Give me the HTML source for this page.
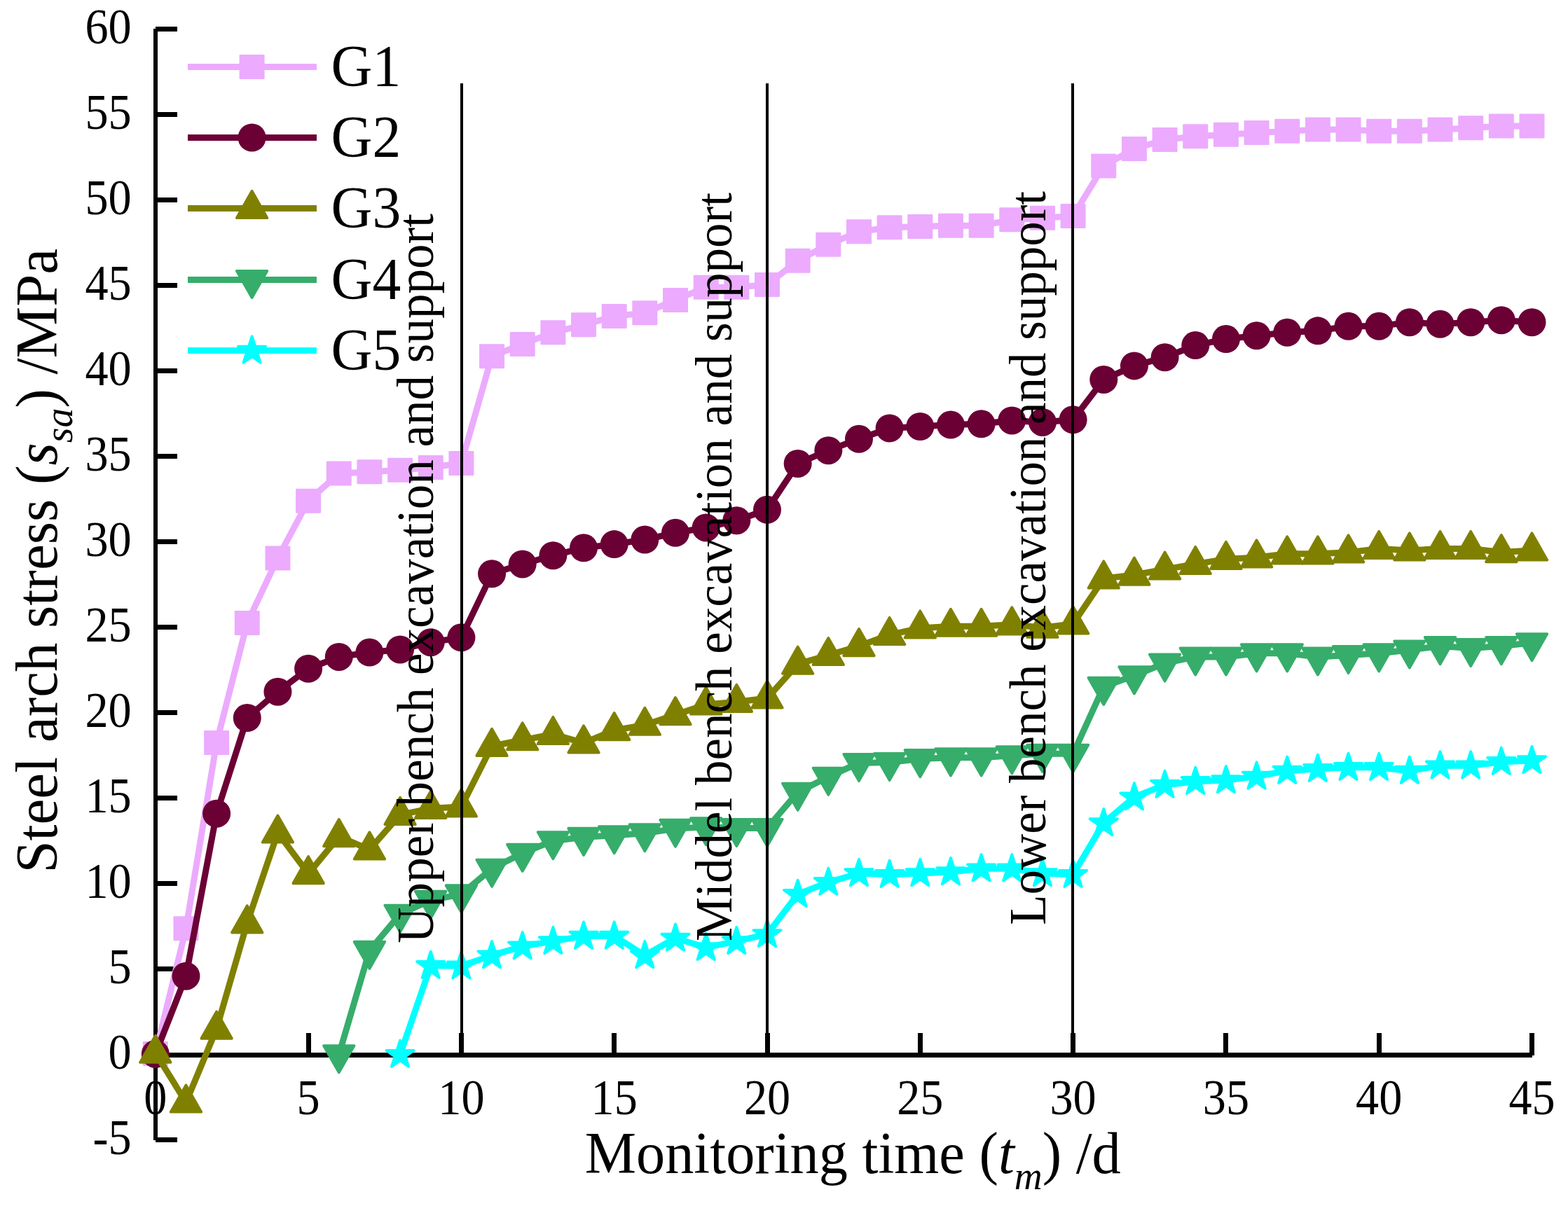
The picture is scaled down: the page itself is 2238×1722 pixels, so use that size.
<!DOCTYPE html>
<html lang="en"><head><meta charset="utf-8"><title>Steel arch stress vs monitoring time</title>
<style>html,body{margin:0;padding:0;background:#fff}body{width:2238px;height:1722px}svg{display:block}text{font-family:"Liberation Serif","DejaVu Serif",serif;fill:#000}.tk{font-size:72px}.lb{font-size:85px}.vt{font-size:73.4px}.it{font-style:italic}.sb{font-style:italic;font-size:57px}</style></head><body>
<svg width="2238" height="1722" viewBox="0 0 2238 1722" role="img" aria-label="Steel arch stress versus monitoring time for gauges G1 to G5">
<rect width="2238" height="1722" fill="#fff"/>
<g fill="#000" shape-rendering="crispEdges">
<rect x="219" y="41" width="6" height="1587"/>
<rect x="219" y="1503" width="1968" height="7"/>
<rect x="222" y="1624" width="31" height="7"/>
<rect x="222" y="1380" width="31" height="7"/>
<rect x="222" y="1258" width="31" height="7"/>
<rect x="222" y="1136" width="31" height="7"/>
<rect x="222" y="1014" width="31" height="7"/>
<rect x="222" y="892" width="31" height="7"/>
<rect x="222" y="770" width="31" height="7"/>
<rect x="222" y="648" width="31" height="7"/>
<rect x="222" y="526" width="31" height="7"/>
<rect x="222" y="404" width="31" height="7"/>
<rect x="222" y="282" width="31" height="7"/>
<rect x="222" y="160" width="31" height="7"/>
<rect x="222" y="38" width="31" height="7"/>
<rect x="437" y="1475" width="7" height="32"/>
<rect x="655" y="1475" width="7" height="32"/>
<rect x="873" y="1475" width="7" height="32"/>
<rect x="1092" y="1475" width="7" height="32"/>
<rect x="1310" y="1475" width="7" height="32"/>
<rect x="1528" y="1475" width="7" height="32"/>
<rect x="1746" y="1475" width="7" height="32"/>
<rect x="1965" y="1475" width="7" height="32"/>
<rect x="2183" y="1475" width="7" height="32"/>
</g>
<g class="tk">
<text transform="translate(187.6 1647.6) scale(0.92 1)" text-anchor="end">-5</text>
<text transform="translate(187.6 1525.6) scale(0.92 1)" text-anchor="end">0</text>
<text transform="translate(187.6 1403.6) scale(0.92 1)" text-anchor="end">5</text>
<text transform="translate(187.6 1281.6) scale(0.92 1)" text-anchor="end">10</text>
<text transform="translate(187.6 1159.6) scale(0.92 1)" text-anchor="end">15</text>
<text transform="translate(187.6 1037.6) scale(0.92 1)" text-anchor="end">20</text>
<text transform="translate(187.6 915.6) scale(0.92 1)" text-anchor="end">25</text>
<text transform="translate(187.6 793.6) scale(0.92 1)" text-anchor="end">30</text>
<text transform="translate(187.6 671.6) scale(0.92 1)" text-anchor="end">35</text>
<text transform="translate(187.6 549.6) scale(0.92 1)" text-anchor="end">40</text>
<text transform="translate(187.6 427.6) scale(0.92 1)" text-anchor="end">45</text>
<text transform="translate(187.6 305.6) scale(0.92 1)" text-anchor="end">50</text>
<text transform="translate(187.6 183.6) scale(0.92 1)" text-anchor="end">55</text>
<text transform="translate(187.6 61.6) scale(0.92 1)" text-anchor="end">60</text>
<text transform="translate(221.8 1591.2) scale(0.92 1)" text-anchor="middle">0</text>
<text transform="translate(440.1 1591.2) scale(0.92 1)" text-anchor="middle">5</text>
<text transform="translate(658.4 1591.2) scale(0.92 1)" text-anchor="middle">10</text>
<text transform="translate(876.7 1591.2) scale(0.92 1)" text-anchor="middle">15</text>
<text transform="translate(1095 1591.2) scale(0.92 1)" text-anchor="middle">20</text>
<text transform="translate(1313.3 1591.2) scale(0.92 1)" text-anchor="middle">25</text>
<text transform="translate(1531.6 1591.2) scale(0.92 1)" text-anchor="middle">30</text>
<text transform="translate(1749.9 1591.2) scale(0.92 1)" text-anchor="middle">35</text>
<text transform="translate(1968.2 1591.2) scale(0.92 1)" text-anchor="middle">40</text>
<text transform="translate(2186.5 1591.2) scale(0.92 1)" text-anchor="middle">45</text>
</g>
<g>
<polyline points="221.8,1504.48 265.46,1325.87 309.12,1060.4 352.78,889.6 396.44,796.88 440.1,715.14 483.76,676.1 527.42,673.66 571.08,671.22 614.74,667.56 658.4,661.46 702.06,508.72 745.72,491.39 789.38,474.8 833.04,463.82 876.7,451.62 920.36,446.74 964.02,428.44 1007.68,410.14 1051.34,410.14 1095,406.48 1138.66,372.32 1182.32,349.14 1225.98,330.84 1269.64,324.74 1313.3,323.52 1356.96,322.3 1400.62,322.3 1444.28,313.76 1487.94,311.32 1531.6,308.39 1575.26,236.9 1618.92,212.5 1662.58,199.57 1706.24,194.69 1749.9,192.25 1793.56,189.56 1837.22,187.37 1880.88,184.93 1924.54,184.93 1968.2,187.37 2011.86,187.37 2055.52,184.93 2099.18,182.73 2142.84,180.05 2186.5,180.05" fill="none" stroke="#ECABFE" stroke-width="9" stroke-linejoin="round"/>
<rect x="203.8" y="1486.98" width="36" height="35" rx="1" fill="#ECABFE"/>
<rect x="247.46" y="1308.37" width="36" height="35" rx="1" fill="#ECABFE"/>
<rect x="291.12" y="1042.9" width="36" height="35" rx="1" fill="#ECABFE"/>
<rect x="334.78" y="872.1" width="36" height="35" rx="1" fill="#ECABFE"/>
<rect x="378.44" y="779.38" width="36" height="35" rx="1" fill="#ECABFE"/>
<rect x="422.1" y="697.64" width="36" height="35" rx="1" fill="#ECABFE"/>
<rect x="465.76" y="658.6" width="36" height="35" rx="1" fill="#ECABFE"/>
<rect x="509.42" y="656.16" width="36" height="35" rx="1" fill="#ECABFE"/>
<rect x="553.08" y="653.72" width="36" height="35" rx="1" fill="#ECABFE"/>
<rect x="596.74" y="650.06" width="36" height="35" rx="1" fill="#ECABFE"/>
<rect x="640.4" y="643.96" width="36" height="35" rx="1" fill="#ECABFE"/>
<rect x="684.06" y="491.22" width="36" height="35" rx="1" fill="#ECABFE"/>
<rect x="727.72" y="473.89" width="36" height="35" rx="1" fill="#ECABFE"/>
<rect x="771.38" y="457.3" width="36" height="35" rx="1" fill="#ECABFE"/>
<rect x="815.04" y="446.32" width="36" height="35" rx="1" fill="#ECABFE"/>
<rect x="858.7" y="434.12" width="36" height="35" rx="1" fill="#ECABFE"/>
<rect x="902.36" y="429.24" width="36" height="35" rx="1" fill="#ECABFE"/>
<rect x="946.02" y="410.94" width="36" height="35" rx="1" fill="#ECABFE"/>
<rect x="989.68" y="392.64" width="36" height="35" rx="1" fill="#ECABFE"/>
<rect x="1033.34" y="392.64" width="36" height="35" rx="1" fill="#ECABFE"/>
<rect x="1077" y="388.98" width="36" height="35" rx="1" fill="#ECABFE"/>
<rect x="1120.66" y="354.82" width="36" height="35" rx="1" fill="#ECABFE"/>
<rect x="1164.32" y="331.64" width="36" height="35" rx="1" fill="#ECABFE"/>
<rect x="1207.98" y="313.34" width="36" height="35" rx="1" fill="#ECABFE"/>
<rect x="1251.64" y="307.24" width="36" height="35" rx="1" fill="#ECABFE"/>
<rect x="1295.3" y="306.02" width="36" height="35" rx="1" fill="#ECABFE"/>
<rect x="1338.96" y="304.8" width="36" height="35" rx="1" fill="#ECABFE"/>
<rect x="1382.62" y="304.8" width="36" height="35" rx="1" fill="#ECABFE"/>
<rect x="1426.28" y="296.26" width="36" height="35" rx="1" fill="#ECABFE"/>
<rect x="1469.94" y="293.82" width="36" height="35" rx="1" fill="#ECABFE"/>
<rect x="1513.6" y="290.89" width="36" height="35" rx="1" fill="#ECABFE"/>
<rect x="1557.26" y="219.4" width="36" height="35" rx="1" fill="#ECABFE"/>
<rect x="1600.92" y="195" width="36" height="35" rx="1" fill="#ECABFE"/>
<rect x="1644.58" y="182.07" width="36" height="35" rx="1" fill="#ECABFE"/>
<rect x="1688.24" y="177.19" width="36" height="35" rx="1" fill="#ECABFE"/>
<rect x="1731.9" y="174.75" width="36" height="35" rx="1" fill="#ECABFE"/>
<rect x="1775.56" y="172.06" width="36" height="35" rx="1" fill="#ECABFE"/>
<rect x="1819.22" y="169.87" width="36" height="35" rx="1" fill="#ECABFE"/>
<rect x="1862.88" y="167.43" width="36" height="35" rx="1" fill="#ECABFE"/>
<rect x="1906.54" y="167.43" width="36" height="35" rx="1" fill="#ECABFE"/>
<rect x="1950.2" y="169.87" width="36" height="35" rx="1" fill="#ECABFE"/>
<rect x="1993.86" y="169.87" width="36" height="35" rx="1" fill="#ECABFE"/>
<rect x="2037.52" y="167.43" width="36" height="35" rx="1" fill="#ECABFE"/>
<rect x="2081.18" y="165.23" width="36" height="35" rx="1" fill="#ECABFE"/>
<rect x="2124.84" y="162.55" width="36" height="35" rx="1" fill="#ECABFE"/>
<rect x="2168.5" y="162.55" width="36" height="35" rx="1" fill="#ECABFE"/>
</g>
<g>
<polyline points="221.8,1504.97 265.46,1393.7 309.12,1161.66 352.78,1025.02 396.44,987.69 440.1,954.75 483.76,937.91 527.42,931.57 571.08,927.42 614.74,917.17 658.4,910.34 702.06,819.33 745.72,805.42 789.38,793.22 833.04,782.24 876.7,777.12 920.36,770.53 964.02,760.77 1007.68,753.45 1051.34,743.2 1095,727.83 1138.66,661.95 1182.32,643.16 1225.98,626.81 1269.64,611.44 1313.3,609 1356.96,606.56 1400.62,605.34 1444.28,600.46 1487.94,602.9 1531.6,599.24 1575.26,541.9 1618.92,522.38 1662.58,510.18 1706.24,493.1 1749.9,484.07 1793.56,479.19 1837.22,474.8 1880.88,472.36 1924.54,465.77 1968.2,465.77 2011.86,460.16 2055.52,462.84 2099.18,460.16 2142.84,457.23 2186.5,460.16" fill="none" stroke="#6B0035" stroke-width="9" stroke-linejoin="round"/>
<circle cx="221.8" cy="1504.97" r="20.0" fill="#6B0035"/>
<circle cx="265.46" cy="1393.7" r="20.0" fill="#6B0035"/>
<circle cx="309.12" cy="1161.66" r="20.0" fill="#6B0035"/>
<circle cx="352.78" cy="1025.02" r="20.0" fill="#6B0035"/>
<circle cx="396.44" cy="987.69" r="20.0" fill="#6B0035"/>
<circle cx="440.1" cy="954.75" r="20.0" fill="#6B0035"/>
<circle cx="483.76" cy="937.91" r="20.0" fill="#6B0035"/>
<circle cx="527.42" cy="931.57" r="20.0" fill="#6B0035"/>
<circle cx="571.08" cy="927.42" r="20.0" fill="#6B0035"/>
<circle cx="614.74" cy="917.17" r="20.0" fill="#6B0035"/>
<circle cx="658.4" cy="910.34" r="20.0" fill="#6B0035"/>
<circle cx="702.06" cy="819.33" r="20.0" fill="#6B0035"/>
<circle cx="745.72" cy="805.42" r="20.0" fill="#6B0035"/>
<circle cx="789.38" cy="793.22" r="20.0" fill="#6B0035"/>
<circle cx="833.04" cy="782.24" r="20.0" fill="#6B0035"/>
<circle cx="876.7" cy="777.12" r="20.0" fill="#6B0035"/>
<circle cx="920.36" cy="770.53" r="20.0" fill="#6B0035"/>
<circle cx="964.02" cy="760.77" r="20.0" fill="#6B0035"/>
<circle cx="1007.68" cy="753.45" r="20.0" fill="#6B0035"/>
<circle cx="1051.34" cy="743.2" r="20.0" fill="#6B0035"/>
<circle cx="1095" cy="727.83" r="20.0" fill="#6B0035"/>
<circle cx="1138.66" cy="661.95" r="20.0" fill="#6B0035"/>
<circle cx="1182.32" cy="643.16" r="20.0" fill="#6B0035"/>
<circle cx="1225.98" cy="626.81" r="20.0" fill="#6B0035"/>
<circle cx="1269.64" cy="611.44" r="20.0" fill="#6B0035"/>
<circle cx="1313.3" cy="609" r="20.0" fill="#6B0035"/>
<circle cx="1356.96" cy="606.56" r="20.0" fill="#6B0035"/>
<circle cx="1400.62" cy="605.34" r="20.0" fill="#6B0035"/>
<circle cx="1444.28" cy="600.46" r="20.0" fill="#6B0035"/>
<circle cx="1487.94" cy="602.9" r="20.0" fill="#6B0035"/>
<circle cx="1531.6" cy="599.24" r="20.0" fill="#6B0035"/>
<circle cx="1575.26" cy="541.9" r="20.0" fill="#6B0035"/>
<circle cx="1618.92" cy="522.38" r="20.0" fill="#6B0035"/>
<circle cx="1662.58" cy="510.18" r="20.0" fill="#6B0035"/>
<circle cx="1706.24" cy="493.1" r="20.0" fill="#6B0035"/>
<circle cx="1749.9" cy="484.07" r="20.0" fill="#6B0035"/>
<circle cx="1793.56" cy="479.19" r="20.0" fill="#6B0035"/>
<circle cx="1837.22" cy="474.8" r="20.0" fill="#6B0035"/>
<circle cx="1880.88" cy="472.36" r="20.0" fill="#6B0035"/>
<circle cx="1924.54" cy="465.77" r="20.0" fill="#6B0035"/>
<circle cx="1968.2" cy="465.77" r="20.0" fill="#6B0035"/>
<circle cx="2011.86" cy="460.16" r="20.0" fill="#6B0035"/>
<circle cx="2055.52" cy="462.84" r="20.0" fill="#6B0035"/>
<circle cx="2099.18" cy="460.16" r="20.0" fill="#6B0035"/>
<circle cx="2142.84" cy="457.23" r="20.0" fill="#6B0035"/>
<circle cx="2186.5" cy="460.16" r="20.0" fill="#6B0035"/>
</g>
<g>
<polyline points="221.8,1503.26 265.46,1574.02 309.12,1469.1 352.78,1317.82 396.44,1188.99 440.1,1247.55 483.76,1194.6 527.42,1212.9 571.08,1163.37 614.74,1154.34 658.4,1151.9 702.06,1065.28 745.72,1056.74 789.38,1048.44 833.04,1060.89 876.7,1042.59 920.36,1035.27 964.02,1020.63 1007.68,1005.99 1051.34,1002.33 1095,996.96 1138.66,948.16 1182.32,935.47 1225.98,922.54 1269.64,906.44 1313.3,896.92 1356.96,894.24 1400.62,894.24 1444.28,891.8 1487.94,896.19 1531.6,890.82 1575.26,825.92 1618.92,821.04 1662.58,812.98 1706.24,805.42 1749.9,798.34 1793.56,795.9 1837.22,790.78 1880.88,790.78 1924.54,788.83 1968.2,783.46 2011.86,785.9 2055.52,783.46 2099.18,783.46 2142.84,788.58 2186.5,785.9" fill="none" stroke="#808000" stroke-width="9" stroke-linejoin="round"/>
<polygon points="221.8,1478.66 243.55,1516.96 200.05,1516.96" fill="#808000" stroke="#808000" stroke-width="3.8" stroke-linejoin="round"/>
<polygon points="265.46,1549.42 287.21,1587.72 243.71,1587.72" fill="#808000" stroke="#808000" stroke-width="3.8" stroke-linejoin="round"/>
<polygon points="309.12,1444.5 330.87,1482.8 287.37,1482.8" fill="#808000" stroke="#808000" stroke-width="3.8" stroke-linejoin="round"/>
<polygon points="352.78,1293.22 374.53,1331.52 331.03,1331.52" fill="#808000" stroke="#808000" stroke-width="3.8" stroke-linejoin="round"/>
<polygon points="396.44,1164.39 418.19,1202.69 374.69,1202.69" fill="#808000" stroke="#808000" stroke-width="3.8" stroke-linejoin="round"/>
<polygon points="440.1,1222.95 461.85,1261.25 418.35,1261.25" fill="#808000" stroke="#808000" stroke-width="3.8" stroke-linejoin="round"/>
<polygon points="483.76,1170 505.51,1208.3 462.01,1208.3" fill="#808000" stroke="#808000" stroke-width="3.8" stroke-linejoin="round"/>
<polygon points="527.42,1188.3 549.17,1226.6 505.67,1226.6" fill="#808000" stroke="#808000" stroke-width="3.8" stroke-linejoin="round"/>
<polygon points="571.08,1138.77 592.83,1177.07 549.33,1177.07" fill="#808000" stroke="#808000" stroke-width="3.8" stroke-linejoin="round"/>
<polygon points="614.74,1129.74 636.49,1168.04 592.99,1168.04" fill="#808000" stroke="#808000" stroke-width="3.8" stroke-linejoin="round"/>
<polygon points="658.4,1127.3 680.15,1165.6 636.65,1165.6" fill="#808000" stroke="#808000" stroke-width="3.8" stroke-linejoin="round"/>
<polygon points="702.06,1040.68 723.81,1078.98 680.31,1078.98" fill="#808000" stroke="#808000" stroke-width="3.8" stroke-linejoin="round"/>
<polygon points="745.72,1032.14 767.47,1070.44 723.97,1070.44" fill="#808000" stroke="#808000" stroke-width="3.8" stroke-linejoin="round"/>
<polygon points="789.38,1023.84 811.13,1062.14 767.63,1062.14" fill="#808000" stroke="#808000" stroke-width="3.8" stroke-linejoin="round"/>
<polygon points="833.04,1036.29 854.79,1074.59 811.29,1074.59" fill="#808000" stroke="#808000" stroke-width="3.8" stroke-linejoin="round"/>
<polygon points="876.7,1017.99 898.45,1056.29 854.95,1056.29" fill="#808000" stroke="#808000" stroke-width="3.8" stroke-linejoin="round"/>
<polygon points="920.36,1010.67 942.11,1048.97 898.61,1048.97" fill="#808000" stroke="#808000" stroke-width="3.8" stroke-linejoin="round"/>
<polygon points="964.02,996.03 985.77,1034.33 942.27,1034.33" fill="#808000" stroke="#808000" stroke-width="3.8" stroke-linejoin="round"/>
<polygon points="1007.68,981.39 1029.43,1019.69 985.93,1019.69" fill="#808000" stroke="#808000" stroke-width="3.8" stroke-linejoin="round"/>
<polygon points="1051.34,977.73 1073.09,1016.03 1029.59,1016.03" fill="#808000" stroke="#808000" stroke-width="3.8" stroke-linejoin="round"/>
<polygon points="1095,972.36 1116.75,1010.66 1073.25,1010.66" fill="#808000" stroke="#808000" stroke-width="3.8" stroke-linejoin="round"/>
<polygon points="1138.66,923.56 1160.41,961.86 1116.91,961.86" fill="#808000" stroke="#808000" stroke-width="3.8" stroke-linejoin="round"/>
<polygon points="1182.32,910.87 1204.07,949.17 1160.57,949.17" fill="#808000" stroke="#808000" stroke-width="3.8" stroke-linejoin="round"/>
<polygon points="1225.98,897.94 1247.73,936.24 1204.23,936.24" fill="#808000" stroke="#808000" stroke-width="3.8" stroke-linejoin="round"/>
<polygon points="1269.64,881.84 1291.39,920.14 1247.89,920.14" fill="#808000" stroke="#808000" stroke-width="3.8" stroke-linejoin="round"/>
<polygon points="1313.3,872.32 1335.05,910.62 1291.55,910.62" fill="#808000" stroke="#808000" stroke-width="3.8" stroke-linejoin="round"/>
<polygon points="1356.96,869.64 1378.71,907.94 1335.21,907.94" fill="#808000" stroke="#808000" stroke-width="3.8" stroke-linejoin="round"/>
<polygon points="1400.62,869.64 1422.37,907.94 1378.87,907.94" fill="#808000" stroke="#808000" stroke-width="3.8" stroke-linejoin="round"/>
<polygon points="1444.28,867.2 1466.03,905.5 1422.53,905.5" fill="#808000" stroke="#808000" stroke-width="3.8" stroke-linejoin="round"/>
<polygon points="1487.94,871.59 1509.69,909.89 1466.19,909.89" fill="#808000" stroke="#808000" stroke-width="3.8" stroke-linejoin="round"/>
<polygon points="1531.6,866.22 1553.35,904.52 1509.85,904.52" fill="#808000" stroke="#808000" stroke-width="3.8" stroke-linejoin="round"/>
<polygon points="1575.26,801.32 1597.01,839.62 1553.51,839.62" fill="#808000" stroke="#808000" stroke-width="3.8" stroke-linejoin="round"/>
<polygon points="1618.92,796.44 1640.67,834.74 1597.17,834.74" fill="#808000" stroke="#808000" stroke-width="3.8" stroke-linejoin="round"/>
<polygon points="1662.58,788.38 1684.33,826.68 1640.83,826.68" fill="#808000" stroke="#808000" stroke-width="3.8" stroke-linejoin="round"/>
<polygon points="1706.24,780.82 1727.99,819.12 1684.49,819.12" fill="#808000" stroke="#808000" stroke-width="3.8" stroke-linejoin="round"/>
<polygon points="1749.9,773.74 1771.65,812.04 1728.15,812.04" fill="#808000" stroke="#808000" stroke-width="3.8" stroke-linejoin="round"/>
<polygon points="1793.56,771.3 1815.31,809.6 1771.81,809.6" fill="#808000" stroke="#808000" stroke-width="3.8" stroke-linejoin="round"/>
<polygon points="1837.22,766.18 1858.97,804.48 1815.47,804.48" fill="#808000" stroke="#808000" stroke-width="3.8" stroke-linejoin="round"/>
<polygon points="1880.88,766.18 1902.63,804.48 1859.13,804.48" fill="#808000" stroke="#808000" stroke-width="3.8" stroke-linejoin="round"/>
<polygon points="1924.54,764.23 1946.29,802.53 1902.79,802.53" fill="#808000" stroke="#808000" stroke-width="3.8" stroke-linejoin="round"/>
<polygon points="1968.2,758.86 1989.95,797.16 1946.45,797.16" fill="#808000" stroke="#808000" stroke-width="3.8" stroke-linejoin="round"/>
<polygon points="2011.86,761.3 2033.61,799.6 1990.11,799.6" fill="#808000" stroke="#808000" stroke-width="3.8" stroke-linejoin="round"/>
<polygon points="2055.52,758.86 2077.27,797.16 2033.77,797.16" fill="#808000" stroke="#808000" stroke-width="3.8" stroke-linejoin="round"/>
<polygon points="2099.18,758.86 2120.93,797.16 2077.43,797.16" fill="#808000" stroke="#808000" stroke-width="3.8" stroke-linejoin="round"/>
<polygon points="2142.84,763.98 2164.59,802.28 2121.09,802.28" fill="#808000" stroke="#808000" stroke-width="3.8" stroke-linejoin="round"/>
<polygon points="2186.5,761.3 2208.25,799.6 2164.75,799.6" fill="#808000" stroke="#808000" stroke-width="3.8" stroke-linejoin="round"/>
</g>
<g>
<polyline points="483.76,1505.7 527.42,1357.35 571.08,1305.13 614.74,1285.37 658.4,1276.83 702.06,1240.23 745.72,1218.27 789.38,1200.7 833.04,1195.33 876.7,1192.65 920.36,1189.72 964.02,1183.13 1007.68,1180.69 1051.34,1182.4 1095,1182.4 1138.66,1131.16 1182.32,1109.2 1225.98,1089.44 1269.64,1088.46 1313.3,1083.58 1356.96,1081.87 1400.62,1081.87 1444.28,1078.7 1487.94,1076.26 1531.6,1076.26 1575.26,980.37 1618.92,964.75 1662.58,946.94 1706.24,937.91 1749.9,937.91 1793.56,932.79 1837.22,932.79 1880.88,937.91 1924.54,935.47 1968.2,932.79 2011.86,927.91 2055.52,922.54 2099.18,925.47 2142.84,922.54 2186.5,917.66" fill="none" stroke="#36AD6B" stroke-width="9" stroke-linejoin="round"/>
<polygon points="483.76,1531.4 505.51,1493.1 462.01,1493.1" fill="#36AD6B" stroke="#36AD6B" stroke-width="3.8" stroke-linejoin="round"/>
<polygon points="527.42,1383.05 549.17,1344.75 505.67,1344.75" fill="#36AD6B" stroke="#36AD6B" stroke-width="3.8" stroke-linejoin="round"/>
<polygon points="571.08,1330.83 592.83,1292.53 549.33,1292.53" fill="#36AD6B" stroke="#36AD6B" stroke-width="3.8" stroke-linejoin="round"/>
<polygon points="614.74,1311.07 636.49,1272.77 592.99,1272.77" fill="#36AD6B" stroke="#36AD6B" stroke-width="3.8" stroke-linejoin="round"/>
<polygon points="658.4,1302.53 680.15,1264.23 636.65,1264.23" fill="#36AD6B" stroke="#36AD6B" stroke-width="3.8" stroke-linejoin="round"/>
<polygon points="702.06,1265.93 723.81,1227.63 680.31,1227.63" fill="#36AD6B" stroke="#36AD6B" stroke-width="3.8" stroke-linejoin="round"/>
<polygon points="745.72,1243.97 767.47,1205.67 723.97,1205.67" fill="#36AD6B" stroke="#36AD6B" stroke-width="3.8" stroke-linejoin="round"/>
<polygon points="789.38,1226.4 811.13,1188.1 767.63,1188.1" fill="#36AD6B" stroke="#36AD6B" stroke-width="3.8" stroke-linejoin="round"/>
<polygon points="833.04,1221.03 854.79,1182.73 811.29,1182.73" fill="#36AD6B" stroke="#36AD6B" stroke-width="3.8" stroke-linejoin="round"/>
<polygon points="876.7,1218.35 898.45,1180.05 854.95,1180.05" fill="#36AD6B" stroke="#36AD6B" stroke-width="3.8" stroke-linejoin="round"/>
<polygon points="920.36,1215.42 942.11,1177.12 898.61,1177.12" fill="#36AD6B" stroke="#36AD6B" stroke-width="3.8" stroke-linejoin="round"/>
<polygon points="964.02,1208.83 985.77,1170.53 942.27,1170.53" fill="#36AD6B" stroke="#36AD6B" stroke-width="3.8" stroke-linejoin="round"/>
<polygon points="1007.68,1206.39 1029.43,1168.09 985.93,1168.09" fill="#36AD6B" stroke="#36AD6B" stroke-width="3.8" stroke-linejoin="round"/>
<polygon points="1051.34,1208.1 1073.09,1169.8 1029.59,1169.8" fill="#36AD6B" stroke="#36AD6B" stroke-width="3.8" stroke-linejoin="round"/>
<polygon points="1095,1208.1 1116.75,1169.8 1073.25,1169.8" fill="#36AD6B" stroke="#36AD6B" stroke-width="3.8" stroke-linejoin="round"/>
<polygon points="1138.66,1156.86 1160.41,1118.56 1116.91,1118.56" fill="#36AD6B" stroke="#36AD6B" stroke-width="3.8" stroke-linejoin="round"/>
<polygon points="1182.32,1134.9 1204.07,1096.6 1160.57,1096.6" fill="#36AD6B" stroke="#36AD6B" stroke-width="3.8" stroke-linejoin="round"/>
<polygon points="1225.98,1115.14 1247.73,1076.84 1204.23,1076.84" fill="#36AD6B" stroke="#36AD6B" stroke-width="3.8" stroke-linejoin="round"/>
<polygon points="1269.64,1114.16 1291.39,1075.86 1247.89,1075.86" fill="#36AD6B" stroke="#36AD6B" stroke-width="3.8" stroke-linejoin="round"/>
<polygon points="1313.3,1109.28 1335.05,1070.98 1291.55,1070.98" fill="#36AD6B" stroke="#36AD6B" stroke-width="3.8" stroke-linejoin="round"/>
<polygon points="1356.96,1107.57 1378.71,1069.27 1335.21,1069.27" fill="#36AD6B" stroke="#36AD6B" stroke-width="3.8" stroke-linejoin="round"/>
<polygon points="1400.62,1107.57 1422.37,1069.27 1378.87,1069.27" fill="#36AD6B" stroke="#36AD6B" stroke-width="3.8" stroke-linejoin="round"/>
<polygon points="1444.28,1104.4 1466.03,1066.1 1422.53,1066.1" fill="#36AD6B" stroke="#36AD6B" stroke-width="3.8" stroke-linejoin="round"/>
<polygon points="1487.94,1101.96 1509.69,1063.66 1466.19,1063.66" fill="#36AD6B" stroke="#36AD6B" stroke-width="3.8" stroke-linejoin="round"/>
<polygon points="1531.6,1101.96 1553.35,1063.66 1509.85,1063.66" fill="#36AD6B" stroke="#36AD6B" stroke-width="3.8" stroke-linejoin="round"/>
<polygon points="1575.26,1006.07 1597.01,967.77 1553.51,967.77" fill="#36AD6B" stroke="#36AD6B" stroke-width="3.8" stroke-linejoin="round"/>
<polygon points="1618.92,990.45 1640.67,952.15 1597.17,952.15" fill="#36AD6B" stroke="#36AD6B" stroke-width="3.8" stroke-linejoin="round"/>
<polygon points="1662.58,972.64 1684.33,934.34 1640.83,934.34" fill="#36AD6B" stroke="#36AD6B" stroke-width="3.8" stroke-linejoin="round"/>
<polygon points="1706.24,963.61 1727.99,925.31 1684.49,925.31" fill="#36AD6B" stroke="#36AD6B" stroke-width="3.8" stroke-linejoin="round"/>
<polygon points="1749.9,963.61 1771.65,925.31 1728.15,925.31" fill="#36AD6B" stroke="#36AD6B" stroke-width="3.8" stroke-linejoin="round"/>
<polygon points="1793.56,958.49 1815.31,920.19 1771.81,920.19" fill="#36AD6B" stroke="#36AD6B" stroke-width="3.8" stroke-linejoin="round"/>
<polygon points="1837.22,958.49 1858.97,920.19 1815.47,920.19" fill="#36AD6B" stroke="#36AD6B" stroke-width="3.8" stroke-linejoin="round"/>
<polygon points="1880.88,963.61 1902.63,925.31 1859.13,925.31" fill="#36AD6B" stroke="#36AD6B" stroke-width="3.8" stroke-linejoin="round"/>
<polygon points="1924.54,961.17 1946.29,922.87 1902.79,922.87" fill="#36AD6B" stroke="#36AD6B" stroke-width="3.8" stroke-linejoin="round"/>
<polygon points="1968.2,958.49 1989.95,920.19 1946.45,920.19" fill="#36AD6B" stroke="#36AD6B" stroke-width="3.8" stroke-linejoin="round"/>
<polygon points="2011.86,953.61 2033.61,915.31 1990.11,915.31" fill="#36AD6B" stroke="#36AD6B" stroke-width="3.8" stroke-linejoin="round"/>
<polygon points="2055.52,948.24 2077.27,909.94 2033.77,909.94" fill="#36AD6B" stroke="#36AD6B" stroke-width="3.8" stroke-linejoin="round"/>
<polygon points="2099.18,951.17 2120.93,912.87 2077.43,912.87" fill="#36AD6B" stroke="#36AD6B" stroke-width="3.8" stroke-linejoin="round"/>
<polygon points="2142.84,948.24 2164.59,909.94 2121.09,909.94" fill="#36AD6B" stroke="#36AD6B" stroke-width="3.8" stroke-linejoin="round"/>
<polygon points="2186.5,943.36 2208.25,905.06 2164.75,905.06" fill="#36AD6B" stroke="#36AD6B" stroke-width="3.8" stroke-linejoin="round"/>
</g>
<g>
<polyline points="571.08,1505.7 614.74,1378.82 658.4,1379.31 702.06,1364.18 745.72,1351.25 789.38,1343.93 833.04,1336.61 876.7,1336.61 920.36,1364.18 964.02,1339.54 1007.68,1352.96 1051.34,1343.93 1095,1333.92 1138.66,1276.83 1182.32,1259.75 1225.98,1247.06 1269.64,1248.77 1313.3,1247.06 1356.96,1245.11 1400.62,1240.23 1444.28,1240.23 1487.94,1247.06 1531.6,1248.77 1575.26,1175.08 1618.92,1138.24 1662.58,1120.67 1706.24,1115.79 1749.9,1114.08 1793.56,1108.47 1837.22,1100.66 1880.88,1097.73 1924.54,1095.78 1968.2,1095.78 2011.86,1100.66 2055.52,1093.34 2099.18,1093.34 2142.84,1087.73 2186.5,1086.02" fill="none" stroke="#00FFFF" stroke-width="9" stroke-linejoin="round"/>
<polygon points="571.08,1485.5 575.73,1499.8 590.77,1499.8 578.6,1508.64 583.25,1522.95 571.08,1514.11 558.91,1522.95 563.56,1508.64 551.39,1499.8 566.43,1499.8" fill="#00FFFF" stroke="#00FFFF" stroke-width="3.8" stroke-linejoin="round"/>
<polygon points="614.74,1358.62 619.39,1372.92 634.43,1372.92 622.26,1381.76 626.91,1396.07 614.74,1387.23 602.57,1396.07 607.22,1381.76 595.05,1372.92 610.09,1372.92" fill="#00FFFF" stroke="#00FFFF" stroke-width="3.8" stroke-linejoin="round"/>
<polygon points="658.4,1359.11 663.05,1373.41 678.09,1373.41 665.92,1382.25 670.57,1396.55 658.4,1387.72 646.23,1396.55 650.88,1382.25 638.71,1373.41 653.75,1373.41" fill="#00FFFF" stroke="#00FFFF" stroke-width="3.8" stroke-linejoin="round"/>
<polygon points="702.06,1343.98 706.71,1358.28 721.75,1358.28 709.58,1367.12 714.23,1381.43 702.06,1372.59 689.89,1381.43 694.54,1367.12 682.37,1358.28 697.41,1358.28" fill="#00FFFF" stroke="#00FFFF" stroke-width="3.8" stroke-linejoin="round"/>
<polygon points="745.72,1331.05 750.37,1345.35 765.41,1345.35 753.24,1354.19 757.89,1368.49 745.72,1359.66 733.55,1368.49 738.2,1354.19 726.03,1345.35 741.07,1345.35" fill="#00FFFF" stroke="#00FFFF" stroke-width="3.8" stroke-linejoin="round"/>
<polygon points="789.38,1323.73 794.03,1338.03 809.07,1338.03 796.9,1346.87 801.55,1361.17 789.38,1352.34 777.21,1361.17 781.86,1346.87 769.69,1338.03 784.73,1338.03" fill="#00FFFF" stroke="#00FFFF" stroke-width="3.8" stroke-linejoin="round"/>
<polygon points="833.04,1316.41 837.69,1330.71 852.73,1330.71 840.56,1339.55 845.21,1353.85 833.04,1345.02 820.87,1353.85 825.52,1339.55 813.35,1330.71 828.39,1330.71" fill="#00FFFF" stroke="#00FFFF" stroke-width="3.8" stroke-linejoin="round"/>
<polygon points="876.7,1316.41 881.35,1330.71 896.39,1330.71 884.22,1339.55 888.87,1353.85 876.7,1345.02 864.53,1353.85 869.18,1339.55 857.01,1330.71 872.05,1330.71" fill="#00FFFF" stroke="#00FFFF" stroke-width="3.8" stroke-linejoin="round"/>
<polygon points="920.36,1343.98 925.01,1358.28 940.05,1358.28 927.88,1367.12 932.53,1381.43 920.36,1372.59 908.19,1381.43 912.84,1367.12 900.67,1358.28 915.71,1358.28" fill="#00FFFF" stroke="#00FFFF" stroke-width="3.8" stroke-linejoin="round"/>
<polygon points="964.02,1319.34 968.67,1333.64 983.71,1333.64 971.54,1342.48 976.19,1356.78 964.02,1347.94 951.85,1356.78 956.5,1342.48 944.33,1333.64 959.37,1333.64" fill="#00FFFF" stroke="#00FFFF" stroke-width="3.8" stroke-linejoin="round"/>
<polygon points="1007.68,1332.76 1012.33,1347.06 1027.37,1347.06 1015.2,1355.9 1019.85,1370.2 1007.68,1361.36 995.51,1370.2 1000.16,1355.9 987.99,1347.06 1003.03,1347.06" fill="#00FFFF" stroke="#00FFFF" stroke-width="3.8" stroke-linejoin="round"/>
<polygon points="1051.34,1323.73 1055.99,1338.03 1071.03,1338.03 1058.86,1346.87 1063.51,1361.17 1051.34,1352.34 1039.17,1361.17 1043.82,1346.87 1031.65,1338.03 1046.69,1338.03" fill="#00FFFF" stroke="#00FFFF" stroke-width="3.8" stroke-linejoin="round"/>
<polygon points="1095,1313.72 1099.65,1328.03 1114.69,1328.03 1102.52,1336.87 1107.17,1351.17 1095,1342.33 1082.83,1351.17 1087.48,1336.87 1075.31,1328.03 1090.35,1328.03" fill="#00FFFF" stroke="#00FFFF" stroke-width="3.8" stroke-linejoin="round"/>
<polygon points="1138.66,1256.63 1143.31,1270.93 1158.35,1270.93 1146.18,1279.77 1150.83,1294.07 1138.66,1285.24 1126.49,1294.07 1131.14,1279.77 1118.97,1270.93 1134.01,1270.93" fill="#00FFFF" stroke="#00FFFF" stroke-width="3.8" stroke-linejoin="round"/>
<polygon points="1182.32,1239.55 1186.97,1253.85 1202.01,1253.85 1189.84,1262.69 1194.49,1276.99 1182.32,1268.16 1170.15,1276.99 1174.8,1262.69 1162.63,1253.85 1177.67,1253.85" fill="#00FFFF" stroke="#00FFFF" stroke-width="3.8" stroke-linejoin="round"/>
<polygon points="1225.98,1226.86 1230.63,1241.16 1245.67,1241.16 1233.5,1250 1238.15,1264.31 1225.98,1255.47 1213.81,1264.31 1218.46,1250 1206.29,1241.16 1221.33,1241.16" fill="#00FFFF" stroke="#00FFFF" stroke-width="3.8" stroke-linejoin="round"/>
<polygon points="1269.64,1228.57 1274.29,1242.87 1289.33,1242.87 1277.16,1251.71 1281.81,1266.01 1269.64,1257.18 1257.47,1266.01 1262.12,1251.71 1249.95,1242.87 1264.99,1242.87" fill="#00FFFF" stroke="#00FFFF" stroke-width="3.8" stroke-linejoin="round"/>
<polygon points="1313.3,1226.86 1317.95,1241.16 1332.99,1241.16 1320.82,1250 1325.47,1264.31 1313.3,1255.47 1301.13,1264.31 1305.78,1250 1293.61,1241.16 1308.65,1241.16" fill="#00FFFF" stroke="#00FFFF" stroke-width="3.8" stroke-linejoin="round"/>
<polygon points="1356.96,1224.91 1361.61,1239.21 1376.65,1239.21 1364.48,1248.05 1369.13,1262.35 1356.96,1253.52 1344.79,1262.35 1349.44,1248.05 1337.27,1239.21 1352.31,1239.21" fill="#00FFFF" stroke="#00FFFF" stroke-width="3.8" stroke-linejoin="round"/>
<polygon points="1400.62,1220.03 1405.27,1234.33 1420.31,1234.33 1408.14,1243.17 1412.79,1257.47 1400.62,1248.64 1388.45,1257.47 1393.1,1243.17 1380.93,1234.33 1395.97,1234.33" fill="#00FFFF" stroke="#00FFFF" stroke-width="3.8" stroke-linejoin="round"/>
<polygon points="1444.28,1220.03 1448.93,1234.33 1463.97,1234.33 1451.8,1243.17 1456.45,1257.47 1444.28,1248.64 1432.11,1257.47 1436.76,1243.17 1424.59,1234.33 1439.63,1234.33" fill="#00FFFF" stroke="#00FFFF" stroke-width="3.8" stroke-linejoin="round"/>
<polygon points="1487.94,1226.86 1492.59,1241.16 1507.63,1241.16 1495.46,1250 1500.11,1264.31 1487.94,1255.47 1475.77,1264.31 1480.42,1250 1468.25,1241.16 1483.29,1241.16" fill="#00FFFF" stroke="#00FFFF" stroke-width="3.8" stroke-linejoin="round"/>
<polygon points="1531.6,1228.57 1536.25,1242.87 1551.29,1242.87 1539.12,1251.71 1543.77,1266.01 1531.6,1257.18 1519.43,1266.01 1524.08,1251.71 1511.91,1242.87 1526.95,1242.87" fill="#00FFFF" stroke="#00FFFF" stroke-width="3.8" stroke-linejoin="round"/>
<polygon points="1575.26,1154.88 1579.91,1169.18 1594.95,1169.18 1582.78,1178.02 1587.43,1192.33 1575.26,1183.49 1563.09,1192.33 1567.74,1178.02 1555.57,1169.18 1570.61,1169.18" fill="#00FFFF" stroke="#00FFFF" stroke-width="3.8" stroke-linejoin="round"/>
<polygon points="1618.92,1118.04 1623.57,1132.34 1638.61,1132.34 1626.44,1141.18 1631.09,1155.48 1618.92,1146.64 1606.75,1155.48 1611.4,1141.18 1599.23,1132.34 1614.27,1132.34" fill="#00FFFF" stroke="#00FFFF" stroke-width="3.8" stroke-linejoin="round"/>
<polygon points="1662.58,1100.47 1667.23,1114.77 1682.27,1114.77 1670.1,1123.61 1674.75,1137.91 1662.58,1129.08 1650.41,1137.91 1655.06,1123.61 1642.89,1114.77 1657.93,1114.77" fill="#00FFFF" stroke="#00FFFF" stroke-width="3.8" stroke-linejoin="round"/>
<polygon points="1706.24,1095.59 1710.89,1109.89 1725.93,1109.89 1713.76,1118.73 1718.41,1133.03 1706.24,1124.2 1694.07,1133.03 1698.72,1118.73 1686.55,1109.89 1701.59,1109.89" fill="#00FFFF" stroke="#00FFFF" stroke-width="3.8" stroke-linejoin="round"/>
<polygon points="1749.9,1093.88 1754.55,1108.18 1769.59,1108.18 1757.42,1117.02 1762.07,1131.33 1749.9,1122.49 1737.73,1131.33 1742.38,1117.02 1730.21,1108.18 1745.25,1108.18" fill="#00FFFF" stroke="#00FFFF" stroke-width="3.8" stroke-linejoin="round"/>
<polygon points="1793.56,1088.27 1798.21,1102.57 1813.25,1102.57 1801.08,1111.41 1805.73,1125.71 1793.56,1116.88 1781.39,1125.71 1786.04,1111.41 1773.87,1102.57 1788.91,1102.57" fill="#00FFFF" stroke="#00FFFF" stroke-width="3.8" stroke-linejoin="round"/>
<polygon points="1837.22,1080.46 1841.87,1094.76 1856.91,1094.76 1844.74,1103.6 1849.39,1117.91 1837.22,1109.07 1825.05,1117.91 1829.7,1103.6 1817.53,1094.76 1832.57,1094.76" fill="#00FFFF" stroke="#00FFFF" stroke-width="3.8" stroke-linejoin="round"/>
<polygon points="1880.88,1077.53 1885.53,1091.83 1900.57,1091.84 1888.4,1100.68 1893.05,1114.98 1880.88,1106.14 1868.71,1114.98 1873.36,1100.68 1861.19,1091.84 1876.23,1091.83" fill="#00FFFF" stroke="#00FFFF" stroke-width="3.8" stroke-linejoin="round"/>
<polygon points="1924.54,1075.58 1929.19,1089.88 1944.23,1089.88 1932.06,1098.72 1936.71,1113.03 1924.54,1104.19 1912.37,1113.03 1917.02,1098.72 1904.85,1089.88 1919.89,1089.88" fill="#00FFFF" stroke="#00FFFF" stroke-width="3.8" stroke-linejoin="round"/>
<polygon points="1968.2,1075.58 1972.85,1089.88 1987.89,1089.88 1975.72,1098.72 1980.37,1113.03 1968.2,1104.19 1956.03,1113.03 1960.68,1098.72 1948.51,1089.88 1963.55,1089.88" fill="#00FFFF" stroke="#00FFFF" stroke-width="3.8" stroke-linejoin="round"/>
<polygon points="2011.86,1080.46 2016.51,1094.76 2031.55,1094.76 2019.38,1103.6 2024.03,1117.91 2011.86,1109.07 1999.69,1117.91 2004.34,1103.6 1992.17,1094.76 2007.21,1094.76" fill="#00FFFF" stroke="#00FFFF" stroke-width="3.8" stroke-linejoin="round"/>
<polygon points="2055.52,1073.14 2060.17,1087.44 2075.21,1087.44 2063.04,1096.28 2067.69,1110.59 2055.52,1101.75 2043.35,1110.59 2048,1096.28 2035.83,1087.44 2050.87,1087.44" fill="#00FFFF" stroke="#00FFFF" stroke-width="3.8" stroke-linejoin="round"/>
<polygon points="2099.18,1073.14 2103.83,1087.44 2118.87,1087.44 2106.7,1096.28 2111.35,1110.59 2099.18,1101.75 2087.01,1110.59 2091.66,1096.28 2079.49,1087.44 2094.53,1087.44" fill="#00FFFF" stroke="#00FFFF" stroke-width="3.8" stroke-linejoin="round"/>
<polygon points="2142.84,1067.53 2147.49,1081.83 2162.53,1081.83 2150.36,1090.67 2155.01,1104.97 2142.84,1096.14 2130.67,1104.97 2135.32,1090.67 2123.15,1081.83 2138.19,1081.83" fill="#00FFFF" stroke="#00FFFF" stroke-width="3.8" stroke-linejoin="round"/>
<polygon points="2186.5,1065.82 2191.15,1080.12 2206.19,1080.12 2194.02,1088.96 2198.67,1103.27 2186.5,1094.43 2174.33,1103.27 2178.98,1088.96 2166.81,1080.12 2181.85,1080.12" fill="#00FFFF" stroke="#00FFFF" stroke-width="3.8" stroke-linejoin="round"/>
</g>
<text class="vt" transform="translate(618.3 1346.7) rotate(-90)" textLength="1041.7" lengthAdjust="spacingAndGlyphs">Upper bench excavation and support</text>
<text class="vt" transform="translate(1043.8 1344) rotate(-90)" textLength="1069" lengthAdjust="spacingAndGlyphs">Middel bench excavation and support</text>
<text class="vt" transform="translate(1491.9 1320.8) rotate(-90)" textLength="1047.8" lengthAdjust="spacingAndGlyphs">Lower bench excavation and support</text>
<g fill="#000" shape-rendering="crispEdges">
<rect x="657" y="119" width="4" height="1387"/>
<rect x="1093" y="119" width="4" height="1387"/>
<rect x="1529" y="119" width="4" height="1387"/>
</g>
<line x1="268" y1="95.4" x2="452" y2="95.4" stroke="#ECABFE" stroke-width="9"/>
<rect x="341.6" y="77.9" width="36" height="35" rx="1" fill="#ECABFE"/>
<text class="lb" transform="translate(472.5 123.2) scale(0.96 1)">G1</text>
<line x1="268" y1="196.5" x2="452" y2="196.5" stroke="#6B0035" stroke-width="9"/>
<circle cx="359.6" cy="196.5" r="20.0" fill="#6B0035"/>
<text class="lb" transform="translate(472.5 224.3) scale(0.96 1)">G2</text>
<line x1="268" y1="297.4" x2="452" y2="297.4" stroke="#808000" stroke-width="9"/>
<polygon points="359.6,272.8 381.35,311.1 337.85,311.1" fill="#808000" stroke="#808000" stroke-width="3.8" stroke-linejoin="round"/>
<text class="lb" transform="translate(472.5 325.2) scale(0.96 1)">G3</text>
<line x1="268" y1="399.4" x2="452" y2="399.4" stroke="#36AD6B" stroke-width="9"/>
<polygon points="359.6,425.1 381.35,386.8 337.85,386.8" fill="#36AD6B" stroke="#36AD6B" stroke-width="3.8" stroke-linejoin="round"/>
<text class="lb" transform="translate(472.5 427.2) scale(0.96 1)">G4</text>
<line x1="268" y1="500.5" x2="452" y2="500.5" stroke="#00FFFF" stroke-width="9"/>
<polygon points="359.6,480.3 364.25,494.6 379.29,494.6 367.12,503.44 371.77,517.75 359.6,508.91 347.43,517.75 352.08,503.44 339.91,494.6 354.95,494.6" fill="#00FFFF" stroke="#00FFFF" stroke-width="3.8" stroke-linejoin="round"/>
<text class="lb" transform="translate(472.5 528.3) scale(0.96 1)">G5</text>
<text class="lb" x="834.8" y="1674.6" textLength="765" lengthAdjust="spacingAndGlyphs">Monitoring time (<tspan class="it">t</tspan><tspan class="sb" dy="23.5">m</tspan><tspan dy="-23.5">) /d</tspan></text>
<text class="lb" transform="translate(81.2 1246.5) rotate(-90)" textLength="891.5" lengthAdjust="spacingAndGlyphs">Steel arch stress (<tspan class="it">s</tspan><tspan class="sb" dy="21.5">sa</tspan><tspan dy="-21.5">) /MPa</tspan></text>
</svg></body></html>
